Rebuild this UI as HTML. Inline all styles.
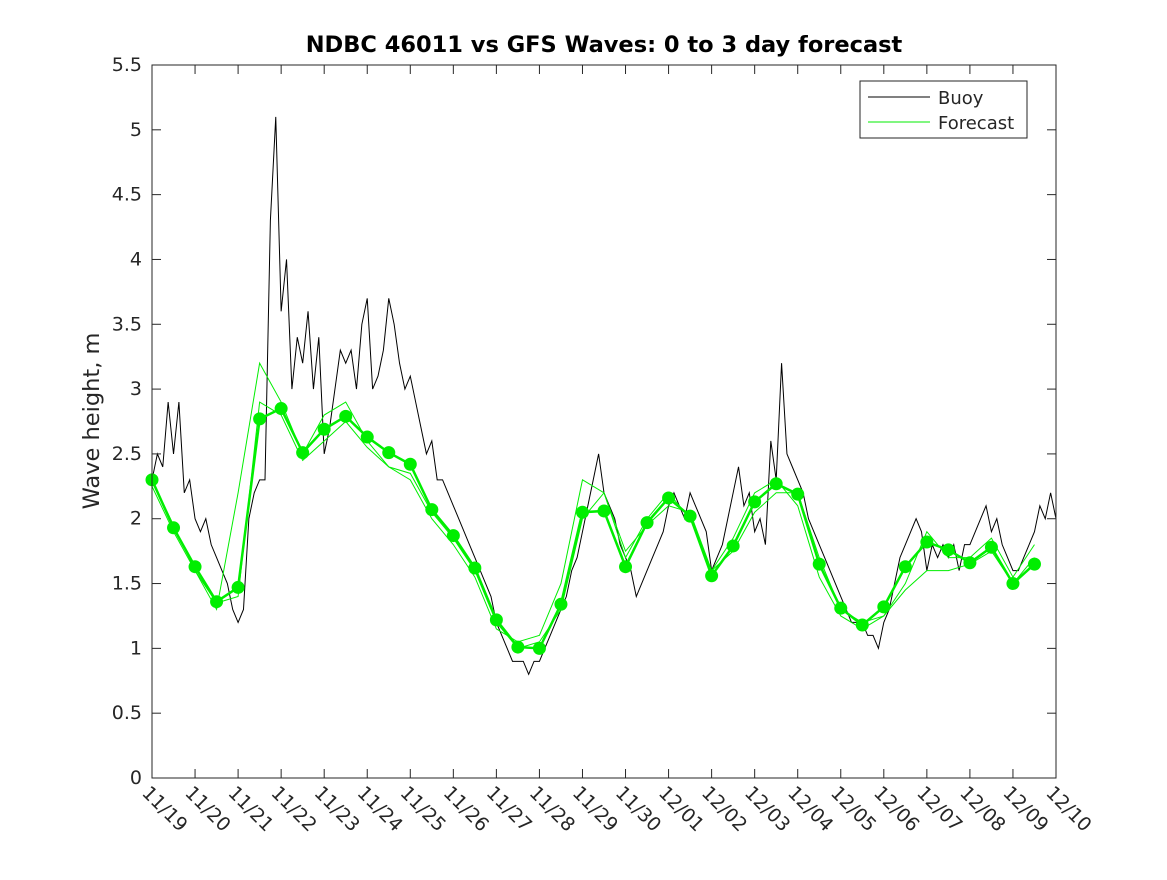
<!DOCTYPE html>
<html><head><meta charset="utf-8"><style>
body{margin:0;background:#fff;}
svg text{font-family:"DejaVu Sans","Liberation Sans",sans-serif;fill:#262626;}
</style></head><body>
<svg id="chart" width="1167" height="875" viewBox="0 0 1167 875" xmlns="http://www.w3.org/2000/svg">
<rect width="1167" height="875" fill="#fff"/>
<text x="604" y="52" text-anchor="middle" font-size="22.5" font-weight="bold" style="fill:#000">NDBC 46011 vs GFS Waves: 0 to 3 day forecast</text>
<text transform="translate(99,421) rotate(-90)" text-anchor="middle" font-size="22.5">Wave height, m</text>
<g id="plot"></g>
</svg>
<script>
const xTickLabels=["11/19","11/20","11/21","11/22","11/23","11/24","11/25","11/26","11/27","11/28","11/29","11/30","12/01","12/02","12/03","12/04","12/05","12/06","12/07","12/08","12/09","12/10"];
const yTicks=[0,0.5,1,1.5,2,2.5,3,3.5,4,4.5,5,5.5];
const buoy=[2.3,2.5,2.4,2.9,2.5,2.9,2.2,2.3,
2.0,1.9,2.0,1.8,1.7,1.6,1.5,1.3,
1.2,1.3,2.0,2.2,2.3,2.3,4.3,5.1,
3.6,4.0,3.0,3.4,3.2,3.6,3.0,3.4,
2.5,2.7,3.0,3.3,3.2,3.3,3.0,3.5,
3.7,3.0,3.1,3.3,3.7,3.5,3.2,3.0,
3.1,2.9,2.7,2.5,2.6,2.3,2.3,2.2,
2.1,2.0,1.9,1.8,1.7,1.6,1.5,1.4,
1.2,1.1,1.0,0.9,0.9,0.9,0.8,0.9,
0.9,1.0,1.1,1.2,1.3,1.4,1.6,1.7,
1.9,2.1,2.3,2.5,2.2,2.1,2.0,1.8,
1.7,1.6,1.4,1.5,1.6,1.7,1.8,1.9,
2.1,2.2,2.1,2.0,2.2,2.1,2.0,1.9,
1.6,1.7,1.8,2.0,2.2,2.4,2.1,2.2,
1.9,2.0,1.8,2.6,2.3,3.2,2.5,2.4,
2.3,2.2,2.0,1.9,1.8,1.7,1.6,1.5,
1.4,1.3,1.2,1.2,1.2,1.1,1.1,1.0,
1.2,1.3,1.5,1.7,1.8,1.9,2.0,1.9,
1.6,1.8,1.7,1.8,1.7,1.8,1.6,1.8,
1.8,1.9,2.0,2.1,1.9,2.0,1.8,1.7,
1.6,1.6,1.7,1.8,1.9,2.1,2.0,2.2,
2.0];
const forecastMain=[2.3,1.93,1.63,1.36,1.47,2.77,2.85,2.51,2.69,2.79,2.63,2.51,2.42,2.07,1.87,1.62,1.22,1.01,1.0,1.34,2.05,2.06,1.63,1.97,2.16,2.02,1.56,1.79,2.13,2.27,2.19,1.65,1.31,1.18,1.32,1.63,1.82,1.76,1.66,1.78,1.5,1.65];
const forecastRunA=[2.3,1.95,1.6,1.3,2.2,3.2,2.9,2.5,2.8,2.9,2.6,2.4,2.3,2.0,1.8,1.55,1.15,1.05,1.1,1.5,2.3,2.2,1.7,2.0,2.2,2.0,1.6,1.85,2.2,2.3,2.1,1.55,1.25,1.15,1.25,1.5,1.9,1.7,1.7,1.85,1.55,1.8];
const forecastRunB=[2.25,1.9,1.6,1.35,1.4,2.9,2.8,2.45,2.6,2.75,2.55,2.4,2.35,2.05,1.85,1.6,1.2,1.0,1.05,1.3,2.0,2.2,1.75,1.95,2.1,2.05,1.6,1.75,2.05,2.2,2.2,1.7,1.3,1.2,1.25,1.45,1.6,1.6,1.65,1.75,1.5,1.7];
const L=152,R=1056,T=65,B=778;
const xs=d=>L+(R-L)*d/21;
const ys=v=>B-(B-T)*v/5.5;
const NS="http://www.w3.org/2000/svg";
const g=document.getElementById('plot');
function mk(t,a){const e=document.createElementNS(NS,t);for(const k in a)e.setAttribute(k,a[k]);g.appendChild(e);return e;}
let e=mk('polyline',{points:buoy.map((v,i)=>xs(i*0.125)+','+ys(v)).join(' '),fill:'none',stroke:'#000','stroke-width':1});


[forecastRunA,forecastRunB].forEach((run,ri)=>{
 const el=mk('polyline',{points:run.map((v,i)=>xs(i*0.5)+','+ys(v)).join(' '),fill:'none',stroke:'#00ee00','stroke-width':1});
 
 
});
e=mk('polyline',{points:forecastMain.map((v,i)=>xs(i*0.5)+','+ys(v)).join(' '),fill:'none',stroke:'#00ee00','stroke-width':2.5});


forecastMain.forEach((v,i)=>{
 const c=mk('circle',{cx:xs(i*0.5),cy:ys(v),r:6.5,fill:'#00ee00'});
 
 
});
e=mk('rect',{x:L,y:T,width:R-L,height:B-T,fill:'none',stroke:'#262626','stroke-width':1});


yTicks.forEach(v=>{
 const y=ys(v);
 mk('line',{x1:L,x2:L+9,y1:y,y2:y,stroke:'#262626'});
 mk('line',{x1:R,x2:R-9,y1:y,y2:y,stroke:'#262626'});
 const t=mk('text',{x:L-10,y:y+6,'text-anchor':'end','font-size':19});
 t.textContent=String(v);
 
 
});
xTickLabels.forEach((s,i)=>{
 const x=xs(i);
 mk('line',{x1:x,x2:x,y1:B,y2:B-9,stroke:'#262626'});
 mk('line',{x1:x,x2:x,y1:T,y2:T+9,stroke:'#262626'});
 const t=mk('text',{transform:`translate(${x-11},${B+16}) rotate(45)`,'font-size':19});
 t.textContent=s;
 
 
});
e=mk('rect',{x:860,y:81,width:167,height:57,fill:'#fff',stroke:'#262626'});


mk('line',{x1:868,x2:930,y1:97,y2:97,stroke:'#000'});
mk('line',{x1:868,x2:930,y1:122,y2:122,stroke:'#00ee00'});
e=mk('text',{x:938,y:104,'font-size':18});e.textContent='Buoy';


e=mk('text',{x:938,y:129,'font-size':18});e.textContent='Forecast';


</script>
</body></html>
